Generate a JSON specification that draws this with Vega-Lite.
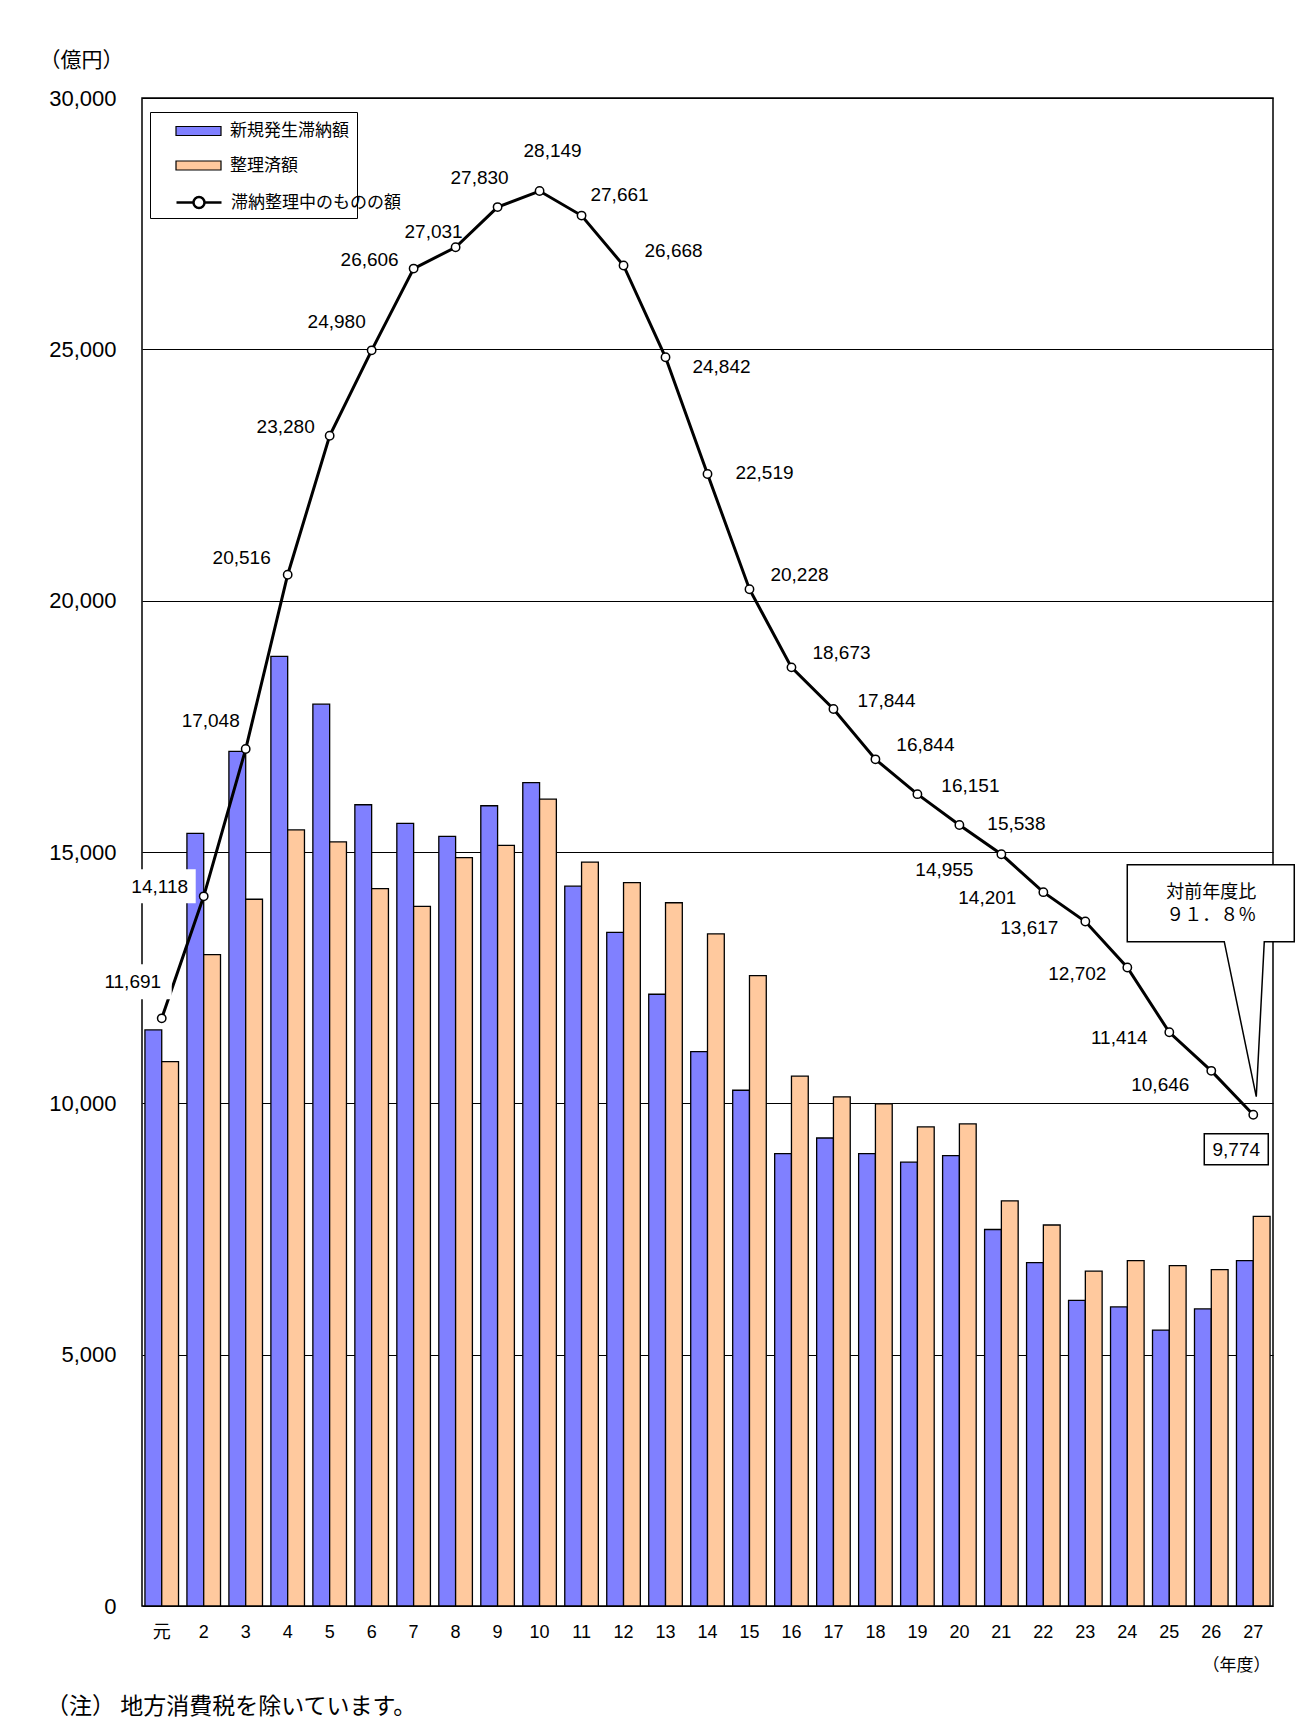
{
  "$schema": "https://vega.github.io/schema/vega-lite/v6.json",
  "width": 1131,
  "height": 1508,
  "autosize": {"type": "none"},
  "padding": {"left": 142, "top": 98, "right": 24, "bottom": 125},
  "background": "white",
  "config": {
    "view": {"stroke": "black", "strokeWidth": 1.5},
    "axis": {"labelColor": "black", "titleColor": "black"}
  },
  "title": {
    "text": "（注） 地方消費税を除いています。",
    "orient": "bottom",
    "anchor": "start",
    "frame": "group",
    "offset": 23,
    "dx": -96,
    "font": "Noto Sans CJK JP",
    "fontSize": 23,
    "fontWeight": "normal",
    "color": "black"
  },
  "data": {
    "values": [
      {"year": "元", "新規発生滞納額": 11460, "整理済額": 10830, "滞納整理中のものの額": 11691},
      {"year": "2", "新規発生滞納額": 15370, "整理済額": 12960, "滞納整理中のものの額": 14118},
      {"year": "3", "新規発生滞納額": 17000, "整理済額": 14060, "滞納整理中のものの額": 17048},
      {"year": "4", "新規発生滞納額": 18890, "整理済額": 15440, "滞納整理中のものの額": 20516},
      {"year": "5", "新規発生滞納額": 17940, "整理済額": 15200, "滞納整理中のものの額": 23280},
      {"year": "6", "新規発生滞納額": 15940, "整理済額": 14270, "滞納整理中のものの額": 24980},
      {"year": "7", "新規発生滞納額": 15570, "整理済額": 13920, "滞納整理中のものの額": 26606},
      {"year": "8", "新規発生滞納額": 15310, "整理済額": 14890, "滞納整理中のものの額": 27031},
      {"year": "9", "新規発生滞納額": 15920, "整理済額": 15130, "滞納整理中のものの額": 27830},
      {"year": "10", "新規発生滞納額": 16380, "整理済額": 16050, "滞納整理中のものの額": 28149},
      {"year": "11", "新規発生滞納額": 14320, "整理済額": 14800, "滞納整理中のものの額": 27661},
      {"year": "12", "新規発生滞納額": 13400, "整理済額": 14390, "滞納整理中のものの額": 26668},
      {"year": "13", "新規発生滞納額": 12170, "整理済額": 13990, "滞納整理中のものの額": 24842},
      {"year": "14", "新規発生滞納額": 11030, "整理済額": 13370, "滞納整理中のものの額": 22519},
      {"year": "15", "新規発生滞納額": 10260, "整理済額": 12540, "滞納整理中のものの額": 20228},
      {"year": "16", "新規発生滞納額": 9000, "整理済額": 10540, "滞納整理中のものの額": 18673},
      {"year": "17", "新規発生滞納額": 9310, "整理済額": 10130, "滞納整理中のものの額": 17844},
      {"year": "18", "新規発生滞納額": 9000, "整理済額": 9990, "滞納整理中のものの額": 16844},
      {"year": "19", "新規発生滞納額": 8830, "整理済額": 9530, "滞納整理中のものの額": 16151},
      {"year": "20", "新規発生滞納額": 8960, "整理済額": 9590, "滞納整理中のものの額": 15538},
      {"year": "21", "新規発生滞納額": 7490, "整理済額": 8060, "滞納整理中のものの額": 14955},
      {"year": "22", "新規発生滞納額": 6830, "整理済額": 7580, "滞納整理中のものの額": 14201},
      {"year": "23", "新規発生滞納額": 6080, "整理済額": 6660, "滞納整理中のものの額": 13617},
      {"year": "24", "新規発生滞納額": 5950, "整理済額": 6870, "滞納整理中のものの額": 12702},
      {"year": "25", "新規発生滞納額": 5490, "整理済額": 6770, "滞納整理中のものの額": 11414},
      {"year": "26", "新規発生滞納額": 5910, "整理済額": 6690, "滞納整理中のものの額": 10646},
      {"year": "27", "新規発生滞納額": 6870, "整理済額": 7750, "滞納整理中のものの額": 9774}
    ]
  },
  "encoding": {
    "x": {
      "field": "year",
      "type": "ordinal",
      "sort": null,
      "scale": {"paddingInner": 0.2, "paddingOuter": 0.07},
      "axis": {
        "title": "（年度）",
        "labelAngle": 0,
        "ticks": false,
        "domain": false,
        "grid": false,
        "labelPadding": 17,
        "labelFont": "Liberation Sans, Noto Sans CJK JP",
        "labelFontSize": 18,
        "titleX": 1094,
        "titleY": 59,
        "titleFont": "Noto Sans CJK JP",
        "titleFontSize": 17,
        "titleFontWeight": "normal",
        "titleAlign": "center",
        "titleBaseline": "middle"
      }
    },
    "y": {"field": "滞納整理中のものの額", "type": "quantitative", "title": "（億円）"}
  },
  "layer": [
    {
      "transform": [{"fold": ["新規発生滞納額", "整理済額"], "as": ["series", "amount"]}],
      "mark": {"type": "bar", "stroke": "black", "strokeWidth": 1.3},
      "encoding": {
        "xOffset": {
          "field": "series",
          "type": "nominal",
          "sort": ["新規発生滞納額", "整理済額"],
          "scale": {"domain": ["新規発生滞納額", "整理済額"], "paddingInner": 0, "paddingOuter": 0}
        },
        "y": {
          "field": "amount",
          "type": "quantitative",
          "title": "（億円）",
          "scale": {"domain": [0, 30000], "nice": false},
          "axis": {
            "values": [0, 5000, 10000, 15000, 20000, 25000, 30000],
            "labelExpr": "format(datum.value, ',')",
            "grid": true,
            "gridColor": "black",
            "gridWidth": 1,
            "gridOpacity": 1,
            "domain": false,
            "ticks": false,
            "labelPadding": 26,
            "labelFlush": false,
            "labelOverlap": false,
            "labelFont": "Liberation Sans",
            "labelFontSize": 22,
            "titleAngle": 0,
            "titleX": -61,
            "titleY": -38,
            "titleAlign": "center",
            "titleBaseline": "middle",
            "titleFont": "Noto Sans CJK JP",
            "titleFontSize": 21,
            "titleFontWeight": "normal"
          }
        },
        "color": {
          "field": "series",
          "type": "nominal",
          "scale": {
            "domain": ["新規発生滞納額", "整理済額"],
            "range": ["#8080ff", "#ffc99e"]
          },
          "legend": {
            "title": "　",
            "titleOrient": "bottom",
            "titleFontSize": 20,
            "titlePadding": 15.5,
            "orient": "none",
            "legendX": 8,
            "legendY": 14,
            "direction": "vertical",
            "strokeColor": "black",
            "padding": 8,
            "rowPadding": 15.5,
            "symbolType": "M0.7,-0.45H5.2V0.45H0.7Z",
            "symbolSize": 400,
            "symbolStrokeColor": "black",
            "symbolStrokeWidth": 1.2,
            "symbolOpacity": 1,
            "labelOffset": 50,
            "labelFont": "Noto Sans CJK JP",
            "labelFontSize": 17,
            "labelColor": "black",
            "labelLimit": 400,
            "labelExpr": "datum.label + '　　　　　'"
          }
        }
      }
    },
    {
      "mark": {"type": "line", "strokeWidth": 3},
      "encoding": {
        "stroke": {
          "datum": "滞納整理中のものの額",
          "type": "nominal",
          "scale": {"domain": ["滞納整理中のものの額"], "range": ["black"]},
          "legend": {
            "title": null,
            "orient": "none",
            "legendX": 16,
            "legendY": 93,
            "padding": 0,
            "symbolType": "M0.7,0H2.4M3.5,0H5.2M3.5,0A0.55,0.55 0 1 1 2.4,0A0.55,0.55 0 1 1 3.5,0",
            "symbolSize": 400,
            "symbolStrokeWidth": 2.5,
            "symbolFillColor": "white",
            "symbolOpacity": 1,
            "labelOffset": 50,
            "labelFont": "Noto Sans CJK JP",
            "labelFontSize": 17,
            "labelColor": "black",
            "labelLimit": 400
          }
        }
      }
    },
    {
      "mark": {"type": "point", "shape": "circle", "size": 70, "filled": true, "fill": "white", "stroke": "black", "strokeWidth": 1.5, "opacity": 1}
    },
    {
      "transform": [{"filter": {"field": "year", "oneOf": ["元"]}}],
      "mark": {"type": "point", "shape": "M-67,-54H10V-19H-67Z", "size": 4, "filled": true, "fill": "white", "strokeWidth": 0, "opacity": 1}
    },
    {
      "transform": [{"filter": {"field": "year", "oneOf": ["2"]}}],
      "mark": {"type": "point", "shape": "M-80,-27H-8V7H-80Z", "size": 4, "filled": true, "fill": "white", "strokeWidth": 0, "opacity": 1}
    },
    {
      "transform": [{"filter": {"field": "year", "oneOf": ["元"]}}],
      "mark": {"type": "text", "dx": -29, "dy": -36, "font": "Liberation Sans", "fontSize": 19, "color": "black"},
      "encoding": {"text": {"field": "滞納整理中のものの額", "type": "quantitative", "format": ","}}
    },
    {
      "transform": [{"filter": {"field": "year", "oneOf": ["2", "5", "7"]}}],
      "mark": {"type": "text", "dx": -44, "dy": -9, "font": "Liberation Sans", "fontSize": 19, "color": "black"},
      "encoding": {"text": {"field": "滞納整理中のものの額", "type": "quantitative", "format": ","}}
    },
    {
      "transform": [{"filter": {"field": "year", "oneOf": ["4"]}}],
      "mark": {"type": "text", "dx": -46, "dy": -17, "font": "Liberation Sans", "fontSize": 19, "color": "black"},
      "encoding": {"text": {"field": "滞納整理中のものの額", "type": "quantitative", "format": ","}}
    },
    {
      "transform": [{"filter": {"field": "year", "oneOf": ["3", "6"]}}],
      "mark": {"type": "text", "dx": -35, "dy": -28, "font": "Liberation Sans", "fontSize": 19, "color": "black"},
      "encoding": {"text": {"field": "滞納整理中のものの額", "type": "quantitative", "format": ","}}
    },
    {
      "transform": [{"filter": {"field": "year", "oneOf": ["8"]}}],
      "mark": {"type": "text", "dx": -22, "dy": -15, "font": "Liberation Sans", "fontSize": 19, "color": "black"},
      "encoding": {"text": {"field": "滞納整理中のものの額", "type": "quantitative", "format": ","}}
    },
    {
      "transform": [{"filter": {"field": "year", "oneOf": ["9"]}}],
      "mark": {"type": "text", "dx": -18, "dy": -29, "font": "Liberation Sans", "fontSize": 19, "color": "black"},
      "encoding": {"text": {"field": "滞納整理中のものの額", "type": "quantitative", "format": ","}}
    },
    {
      "transform": [{"filter": {"field": "year", "oneOf": ["10"]}}],
      "mark": {"type": "text", "dx": 13, "dy": -40, "font": "Liberation Sans", "fontSize": 19, "color": "black"},
      "encoding": {"text": {"field": "滞納整理中のものの額", "type": "quantitative", "format": ","}}
    },
    {
      "transform": [{"filter": {"field": "year", "oneOf": ["11"]}}],
      "mark": {"type": "text", "dx": 38, "dy": -21, "font": "Liberation Sans", "fontSize": 19, "color": "black"},
      "encoding": {"text": {"field": "滞納整理中のものの額", "type": "quantitative", "format": ","}}
    },
    {
      "transform": [{"filter": {"field": "year", "oneOf": ["12", "15", "16", "18"]}}],
      "mark": {"type": "text", "dx": 50, "dy": -14, "font": "Liberation Sans", "fontSize": 19, "color": "black"},
      "encoding": {"text": {"field": "滞納整理中のものの額", "type": "quantitative", "format": ","}}
    },
    {
      "transform": [{"filter": {"field": "year", "oneOf": ["17", "19"]}}],
      "mark": {"type": "text", "dx": 53, "dy": -8, "font": "Liberation Sans", "fontSize": 19, "color": "black"},
      "encoding": {"text": {"field": "滞納整理中のものの額", "type": "quantitative", "format": ","}}
    },
    {
      "transform": [{"filter": {"field": "year", "oneOf": ["13"]}}],
      "mark": {"type": "text", "dx": 56, "dy": 10, "font": "Liberation Sans", "fontSize": 19, "color": "black"},
      "encoding": {"text": {"field": "滞納整理中のものの額", "type": "quantitative", "format": ","}}
    },
    {
      "transform": [{"filter": {"field": "year", "oneOf": ["14", "20"]}}],
      "mark": {"type": "text", "dx": 57, "dy": -1, "font": "Liberation Sans", "fontSize": 19, "color": "black"},
      "encoding": {"text": {"field": "滞納整理中のものの額", "type": "quantitative", "format": ","}}
    },
    {
      "transform": [{"filter": {"field": "year", "oneOf": ["21"]}}],
      "mark": {"type": "text", "dx": -57, "dy": 16, "font": "Liberation Sans", "fontSize": 19, "color": "black"},
      "encoding": {"text": {"field": "滞納整理中のものの額", "type": "quantitative", "format": ","}}
    },
    {
      "transform": [{"filter": {"field": "year", "oneOf": ["22", "23"]}}],
      "mark": {"type": "text", "dx": -56, "dy": 6, "font": "Liberation Sans", "fontSize": 19, "color": "black"},
      "encoding": {"text": {"field": "滞納整理中のものの額", "type": "quantitative", "format": ","}}
    },
    {
      "transform": [{"filter": {"field": "year", "oneOf": ["24", "25"]}}],
      "mark": {"type": "text", "dx": -50, "dy": 6, "font": "Liberation Sans", "fontSize": 19, "color": "black"},
      "encoding": {"text": {"field": "滞納整理中のものの額", "type": "quantitative", "format": ","}}
    },
    {
      "transform": [{"filter": {"field": "year", "oneOf": ["26"]}}],
      "mark": {"type": "text", "dx": -51, "dy": 14, "font": "Liberation Sans", "fontSize": 19, "color": "black"},
      "encoding": {"text": {"field": "滞納整理中のものの額", "type": "quantitative", "format": ","}}
    },
    {
      "transform": [{"filter": {"field": "year", "oneOf": ["27"]}}],
      "mark": {"type": "point", "shape": "M-49,19H15V50H-49Z", "size": 4, "filled": true, "fill": "white", "stroke": "black", "strokeWidth": 1.5, "opacity": 1}
    },
    {
      "transform": [{"filter": {"field": "year", "oneOf": ["27"]}}],
      "mark": {"type": "text", "dx": -17, "dy": 35, "font": "Liberation Sans", "fontSize": 19, "color": "black"},
      "encoding": {"text": {"field": "滞納整理中のものの額", "type": "quantitative", "format": ","}}
    },
    {
      "transform": [{"filter": {"field": "year", "oneOf": ["27"]}}],
      "mark": {"type": "point", "shape": "M-126,-250H41V-173H11L3,-18L-29,-173H-126Z", "size": 4, "filled": true, "fill": "white", "stroke": "black", "strokeWidth": 1.5, "opacity": 1}
    },
    {
      "transform": [{"filter": {"field": "year", "oneOf": ["27"]}}],
      "mark": {"type": "text", "text": "対前年度比", "dx": -42, "dy": -222, "font": "Noto Sans CJK JP", "fontSize": 18, "color": "black"}
    },
    {
      "transform": [{"filter": {"field": "year", "oneOf": ["27"]}}],
      "mark": {"type": "text", "text": "９１．８％", "dx": -42, "dy": -199, "font": "Noto Sans CJK JP", "fontSize": 18, "color": "black"}
    }
  ]
}
